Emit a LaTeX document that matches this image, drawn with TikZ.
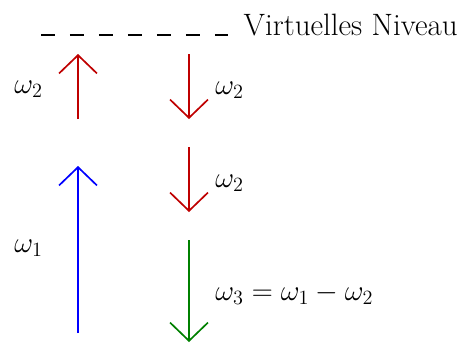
\documentclass[tikz,border=0pt]{standalone}
\usepackage{amsmath}
\usepackage{tikz}
\usetikzlibrary{arrows.meta,positioning}
\tikzset{
  photonarrow/.style={
    line width=1.2pt,
    -{Straight Barb[length=13pt,width=27pt,line width=1.2pt]}
  },
  levelline/.style={
    line width=1.3pt,
    dash pattern=on 10pt off 10.6pt
  },
  freqlabel/.style={
    inner sep=0pt,
    font=\fontsize{22}{26}\selectfont
  }
}

\begin{document}
\begin{tikzpicture}[x=0.25mm,y=-0.25mm]
        \useasboundingbox (0,0) rectangle (473,356);

        % virtual level
        \coordinate (lvlL) at (41,35);
        \coordinate (lvlR) at (228,35);
        \draw[levelline] (lvlL) -- (lvlR);
        \node[freqlabel, anchor=base west] (lvlText) at ([xshift=11pt]lvlR) {Virtuelles Niveau};

        % pump and probe photons
        \coordinate (upA) at (78,119);
        \coordinate (upB) at (78,54);
        \coordinate (dnA) at (189,54);
        \coordinate (dnB) at (189,119);
        \coordinate (pumpA) at (78,333);
        \coordinate (pumpB) at (78,166);
        \coordinate (stimA) at (189,147);
        \coordinate (stimB) at (189,212);
        \coordinate (sigA) at (189,240);
        \coordinate (sigB) at (189,342);

        \draw[photonarrow, red!75!black] (upA) -- (upB);
        \draw[photonarrow, red!75!black] (dnA) -- (dnB);
        \draw[photonarrow, blue] (pumpA) -- (pumpB);
        \draw[photonarrow, red!75!black] (stimA) -- (stimB);
        \draw[photonarrow, green!50!black] (sigA) -- (sigB);

        \node[freqlabel, anchor=east] (wUp) at (43,89) {$\omega_2$};
        \node[freqlabel, anchor=west] (wDn) at (215,90) {$\omega_2$};
        \node[freqlabel, anchor=east] (wPump) at (43,248) {$\omega_1$};
        \node[freqlabel, anchor=west] (wStim) at (215,183) {$\omega_2$};
        \node[freqlabel, anchor=west] (wSig) at (215,294) {$\omega_3 = \omega_1 - \omega_2$};
\end{tikzpicture}
\end{document}
